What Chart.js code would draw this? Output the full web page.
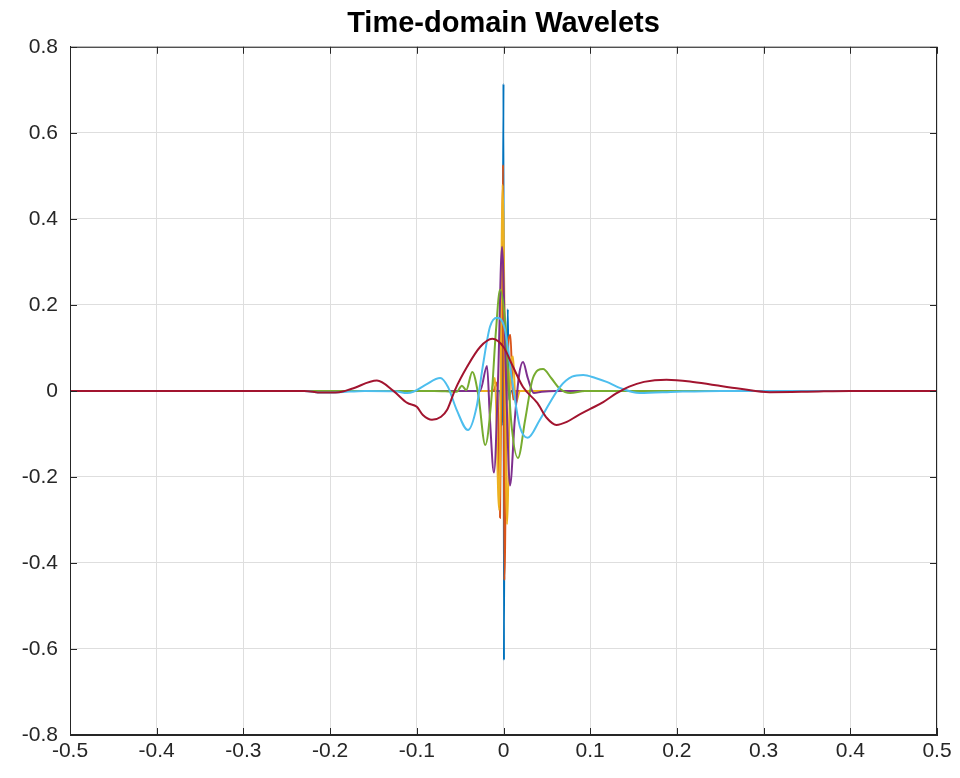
<!DOCTYPE html>
<html>
<head>
<meta charset="utf-8">
<title>Time-domain Wavelets</title>
<script src="https://cdn.jsdelivr.net/npm/chart.js@4.4.1/dist/chart.umd.min.js"></script>
<style>
  html, body { margin: 0; padding: 0; background: #fff; }
  #wrap { width: 960px; height: 778px; }
</style>
</head>
<body>
<div id="wrap"><canvas id="waveChart" width="960" height="778"></canvas></div>
<script>
// tick positions
const xTicks = [-0.5, -0.4, -0.3, -0.2, -0.1, 0, 0.1, 0.2, 0.3, 0.4, 0.5];
const yTicks = [-0.8, -0.6, -0.4, -0.2, 0, 0.2, 0.4, 0.6, 0.8];

// wavelets as [time, amplitude]
const blueWave = [
    [-0.5, 0], [-0.01, 0], [-0.004, 0], [-0.002, -0.08], [-0.001, 0.1],
    [0, 0.714], [0.0005, -0.626], [0.0015, 0.1], [0.003, -0.05],
    [0.005, 0.19], [0.006, -0.02], [0.009, 0], [0.5, 0]
];
const orangeWave = [
    [-0.5, 0], [-0.012, 0], [-0.007, 0.02], [-0.004, -0.295], [-0.002, 0.2],
    [-0.0005, 0.526], [0.001, -0.44], [0.004, 0.05], [0.008, 0.13],
    [0.011, -0.02], [0.015, 0], [0.5, 0]
];
const yellowWave = [
    [-0.5, 0], [-0.014, 0], [-0.01, 0.03], [-0.005, -0.277], [-0.001, 0.479],
    [0.004, -0.31], [0.008, 0.05], [0.011, 0.08], [0.014, -0.03],
    [0.019, 0], [0.5, 0]
];
const purpleWave = [
    [-0.5, 0], [-0.035, 0], [-0.027, 0], [-0.019, 0.058], [-0.0156, -0.067],
    [-0.011, -0.19], [-0.0063, 0.026], [-0.0017, 0.335], [0.0029, 0.026],
    [0.0075, -0.22], [0.013, -0.067], [0.018, 0.037], [0.0225, 0.067],
    [0.028, 0.03], [0.035, -0.005], [0.044, -0.002], [0.06, 0], [0.5, 0]
];
const greenWave = [
    [-0.5, 0], [-0.08, 0], [-0.054, -0.002], [-0.048, 0.012], [-0.043, 0.002],
    [-0.036, 0.044], [-0.029, -0.01], [-0.021, -0.126], [-0.014, -0.02],
    [-0.0087, 0.14], [-0.004, 0.235], [0.0017, 0.165], [0.0087, -0.067],
    [0.0167, -0.156], [0.025, -0.067], [0.034, 0.03], [0.0456, 0.051],
    [0.055, 0.03], [0.065, 0.005], [0.077, -0.005], [0.094, 0], [0.12, 0], [0.5, 0]
];
const cyanWave = [
    [-0.5, 0], [-0.23, 0], [-0.21, -0.004], [-0.19, -0.003], [-0.16, 0],
    [-0.125, -0.001], [-0.111, -0.005], [-0.104, -0.002], [-0.09, 0.014],
    [-0.073, 0.03], [-0.064, 0.009], [-0.054, -0.044], [-0.041, -0.091],
    [-0.031, -0.037], [-0.024, 0.056], [-0.0156, 0.149], [-0.0075, 0.17],
    [0.0017, 0.142], [0.0098, 0.026], [0.019, -0.084], [0.028, -0.109],
    [0.042, -0.067], [0.065, 0.009], [0.079, 0.033], [0.092, 0.037],
    [0.106, 0.03], [0.119, 0.021], [0.134, 0.007], [0.157, -0.005],
    [0.2, -0.002], [0.25, 0], [0.5, 0]
];
const redWave = [
    [-0.5, 0], [-0.23, 0], [-0.21, -0.004], [-0.19, -0.003], [-0.175, 0.005],
    [-0.146, 0.024], [-0.127, 0], [-0.111, -0.028], [-0.1, -0.037],
    [-0.093, -0.056], [-0.0825, -0.067], [-0.072, -0.06], [-0.065, -0.044],
    [-0.056, 0.002], [-0.042, 0.056], [-0.027, 0.102], [-0.013, 0.121],
    [0, 0.102], [0.011, 0.056], [0.0225, 0.009], [0.039, -0.028],
    [0.05, -0.063], [0.061, -0.079], [0.073, -0.072], [0.085, -0.058],
    [0.1, -0.042], [0.115, -0.026], [0.13, -0.006], [0.145, 0.01],
    [0.162, 0.021], [0.188, 0.026], [0.215, 0.022], [0.245, 0.013],
    [0.273, 0.005], [0.307, -0.003], [0.35, -0.002], [0.4, 0], [0.5, 0]
];

const waves = [blueWave, orangeWave, yellowWave, purpleWave, greenWave, cyanWave, redWave];
const colors = ['#0072BD', '#D95319', '#EDB120', '#7E2F8E', '#77AC30', '#4DBEEE', '#A2142F'];

const axisColor = '#262626';
const tickFont = { family: "'Liberation Sans Narrow', 'Liberation Sans', Arial, sans-serif", size: 21 };

// matlab style box with inward ticks
const boxPlugin = {
    id: 'matlabBox',
    afterDraw(chart) {
        const { ctx, chartArea: a, scales } = chart;
        const len = 7;
        ctx.save();
        ctx.strokeStyle = axisColor;
        ctx.lineWidth = 1;
        ctx.strokeRect(a.left + 0.5, a.top + 0.5, a.width - 1, a.height - 1);
        ctx.beginPath();
        xTicks.forEach(v => {
            const px = Math.round(scales.x.getPixelForValue(v)) + 0.5;
            ctx.moveTo(px, a.top); ctx.lineTo(px, a.top + len);
            ctx.moveTo(px, a.bottom); ctx.lineTo(px, a.bottom - len);
        });
        yTicks.forEach(v => {
            const py = Math.round(scales.y.getPixelForValue(v)) + 0.5;
            ctx.moveTo(a.left, py); ctx.lineTo(a.left + len, py);
            ctx.moveTo(a.right, py); ctx.lineTo(a.right - len, py);
        });
        ctx.stroke();
        ctx.restore();
    }
};

const fmt = v => String(Number(v.toFixed(1)));

// first dataset is drawn on top, so reverse to put red on top
const datasets = waves.map((w, i) => ({
    label: 'wavelet ' + (i + 1),
    data: w,
    borderColor: colors[i],
    borderWidth: 2,
    pointRadius: 0,
    fill: false,
    cubicInterpolationMode: 'monotone'
})).reverse();

new Chart(document.getElementById('waveChart').getContext('2d'), {
    type: 'line',
    data: { datasets: datasets },
    options: {
        responsive: false,
        animation: false,
        layout: { padding: { left: 0, right: 23, top: 0, bottom: 0 } },
        plugins: {
            legend: { display: false },
            tooltip: { enabled: false },
            title: {
                display: true,
                text: 'Time-domain Wavelets',
                fullSize: false,
                color: '#000',
                font: { family: "'Liberation Sans', Arial, sans-serif", size: 29, weight: 'bold', lineHeight: 1.2 },
                padding: { top: 7, bottom: 5 }
            }
        },
        scales: {
            x: {
                type: 'linear',
                min: -0.5,
                max: 0.5,
                afterBuildTicks: s => { s.ticks = xTicks.map(v => ({ value: v })); },
                afterFit: s => { s.height = 43; },
                grid: { color: '#dedede', drawTicks: false },
                border: { color: axisColor },
                ticks: { color: axisColor, font: tickFont, padding: 4, maxRotation: 0, callback: fmt }
            },
            y: {
                type: 'linear',
                min: -0.8,
                max: 0.8,
                afterBuildTicks: s => { s.ticks = yTicks.map(v => ({ value: v })); },
                afterFit: s => { s.width = 70; },
                grid: { color: '#dedede', drawTicks: false },
                border: { color: axisColor },
                ticks: { color: axisColor, font: tickFont, padding: 12, callback: fmt }
            }
        }
    },
    plugins: [boxPlugin]
});
</script>
</body>
</html>
